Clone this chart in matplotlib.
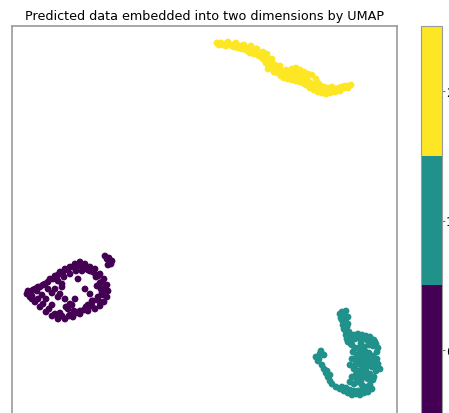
import numpy as np
import matplotlib
matplotlib.use("Agg")
import matplotlib.pyplot as plt

# Embedding coordinates (x, y), y grows downward in the picture
purple_x = [30, 35, 40, 45, 50, 55, 60, 65, 70, 75, 80, 85, 90, 95, 100, 104, 107, 108, 107, 104,
            100, 95, 88, 80, 73, 65, 58, 52, 46, 40, 35, 30, 27,
            107, 110, 108, 112,
            55, 60, 65, 70, 75, 62, 85, 90, 78, 82, 96, 100, 48, 42, 37, 68, 74, 88, 93, 98, 102,
            58, 64, 70, 76, 84, 90, 96, 101, 92, 86, 46, 52, 60, 70, 80,
            33, 38, 43, 48, 53, 58, 63, 68, 73, 78, 83, 88, 93, 98, 102, 105, 103, 99, 92, 84,
            76, 69, 62, 55, 49, 43, 38, 32, 28, 32, 66, 72, 58, 52, 62, 97, 103, 109, 105, 111]
purple_y = [293, 290, 288, 285, 280, 277, 273, 270, 268, 265, 263, 265, 268, 270, 275, 280, 286, 292, 298, 303,
            307, 310, 312, 315, 318, 320, 320, 317, 313, 308, 303, 298, 295,
            260, 263, 266, 262,
            290, 295, 300, 305, 300, 285, 290, 295, 280, 272, 278, 284, 290, 296, 292, 310, 312, 306, 302, 298, 294,
            282, 278, 275, 272, 268, 272, 276, 290, 302, 308, 300, 306, 314, 316, 312,
            291, 288, 286, 283, 280, 276, 273, 271, 268, 267, 267, 271, 273, 277, 283, 289, 296, 302, 307, 311,
            314, 317, 317, 315, 310, 305, 300, 297, 292, 300, 308, 306, 298, 294, 288, 287, 290, 259, 257, 265]

teal_x = [342, 346, 344, 348, 342, 346, 343, 347, 345, 349, 346, 350, 352, 348,
          354, 358, 362, 366, 370, 374, 376, 378, 377, 372, 368,
          352, 355, 353, 357, 360, 364, 362, 366, 370, 374, 378, 380, 376, 372, 368, 364, 360, 356, 352,
          350, 354, 358, 362, 366, 370, 374, 368, 364, 360, 356, 352, 350, 354, 358, 362, 366, 370, 372,
          340, 344, 348, 352, 356, 360, 364, 368,
          316, 320, 324, 318, 322, 324, 326, 328, 330, 332,
          340, 344, 341, 345, 344, 348, 350, 347, 351, 355, 359, 363, 367, 371, 375, 373, 369, 358, 361,
          365, 369, 373, 377, 375, 371, 367, 363, 359, 355, 357, 361, 365, 369, 373, 357, 361, 365, 336,
          342, 346, 350, 354, 358, 362, 366, 370, 319, 321, 327, 330]
teal_y = [313, 312, 317, 318, 321, 323, 326, 328, 331, 333, 336, 338, 341, 343,
          336, 335, 336, 337, 338, 341, 345, 349, 353, 344, 342,
          346, 349, 353, 356, 352, 348, 356, 358, 360, 362, 365, 370, 372, 368, 364, 364, 360, 362, 360,
          366, 370, 372, 370, 372, 375, 378, 380, 378, 378, 376, 378, 383, 385, 383, 386, 388, 386, 390,
          390, 392, 394, 396, 395, 396, 394, 393,
          358, 355, 356, 362, 366, 370, 374, 378, 382, 385,
          315, 315, 319, 320, 330, 325, 335, 340, 345, 340, 339, 340, 340, 341, 343, 347, 346, 349, 344,
          352, 354, 357, 360, 367, 366, 367, 361, 365, 367, 374, 375, 375, 378, 381, 381, 382, 390, 388,
          388, 389, 391, 392, 392, 391, 390, 390, 360, 352, 372, 376]

yellow_x = [217, 221, 225, 229, 233, 237, 241, 245, 249, 252, 255, 258, 261, 264, 266, 268, 270, 272, 270,
            273, 276, 279, 282, 285, 287, 290, 293, 296, 299, 302, 305, 307, 309, 312, 315, 318, 321, 324,
            327, 330, 333, 336, 339, 342, 345, 348, 351,
            226, 234, 242, 248, 254, 259, 263, 266, 268, 274, 278, 281, 284, 288, 292, 296, 300, 303, 306,
            310, 314, 318, 322, 326, 330, 335, 340,
            292, 296, 300, 304, 308, 312, 316, 318, 263, 256,
            219, 223, 228, 232, 236, 240, 244, 247, 251, 254, 257, 260, 262, 265, 267, 269, 271, 268, 272,
            275, 278, 281, 284, 287, 290, 294, 298, 302, 305, 308, 311, 314, 317, 320, 323, 326, 329, 332,
            336, 340, 344, 348, 238, 246, 250, 275, 280, 286, 320, 324, 328, 332]
yellow_y = [44, 44, 45, 45, 46, 46, 47, 48, 49, 51, 52, 53, 55, 56, 58, 60, 62, 64, 68,
            70, 69, 70, 72, 74, 76, 75, 74, 74, 75, 76, 78, 80, 83, 85, 87, 89, 90, 91,
            92, 91, 90, 90, 89, 88, 87, 87, 86,
            47, 48, 50, 52, 55, 57, 60, 64, 66, 73, 74, 77, 79, 80, 81, 82, 83, 84, 86,
            89, 91, 93, 94, 95, 94, 93, 92,
            70, 69, 71, 73, 75, 76, 80, 84, 53, 50,
            46, 46, 43, 47, 44, 49, 46, 51, 47, 54, 50, 56, 58, 61, 55, 63, 66, 70, 60,
            73, 72, 74, 76, 77, 78, 78, 79, 80, 82, 84, 86, 89, 91, 92, 93, 94, 93, 93,
            92, 90, 89, 89, 49, 51, 54, 66, 67, 71, 86, 88, 89, 88]

labels = [0, 1, 2]
title = "Predicted data embedded into two dimensions by UMAP"

xs = np.array(purple_x + teal_x + yellow_x, dtype=float)
ys = -np.array(purple_y + teal_y + yellow_y, dtype=float)
cs = np.array([0] * len(purple_x) + [1] * len(teal_x) + [2] * len(yellow_x))

W, H = 449, 414
fig = plt.figure(figsize=(W / 100, H / 100), dpi=100)
ax = fig.add_axes([12 / W, -2 / H, (397 - 12) / W, (416 - 27) / H])
sc = ax.scatter(xs, ys, c=cs, cmap="viridis", s=24, linewidths=0)
ax.set_xlim(12, 397)
ax.set_ylim(-416, -27)
ax.set_xticks([])
ax.set_yticks([])
for sp in ax.spines.values():
    sp.set_color("#9a9a9a")
    sp.set_linewidth(1.2)
ax.set_title(title, fontsize=9.2, pad=5)

cax = fig.add_axes([421 / W, -2 / H, 21 / W, (416 - 27) / H])
cb = fig.colorbar(sc, cax=cax, boundaries=np.arange(4) - 0.5)
cb.set_ticks(labels)
cb.ax.tick_params(labelsize=9, color="#777777", length=2.5, pad=0.5)
cb.outline.set_edgecolor("#9a9a9a")

fig.savefig("out.png", dpi=100)
